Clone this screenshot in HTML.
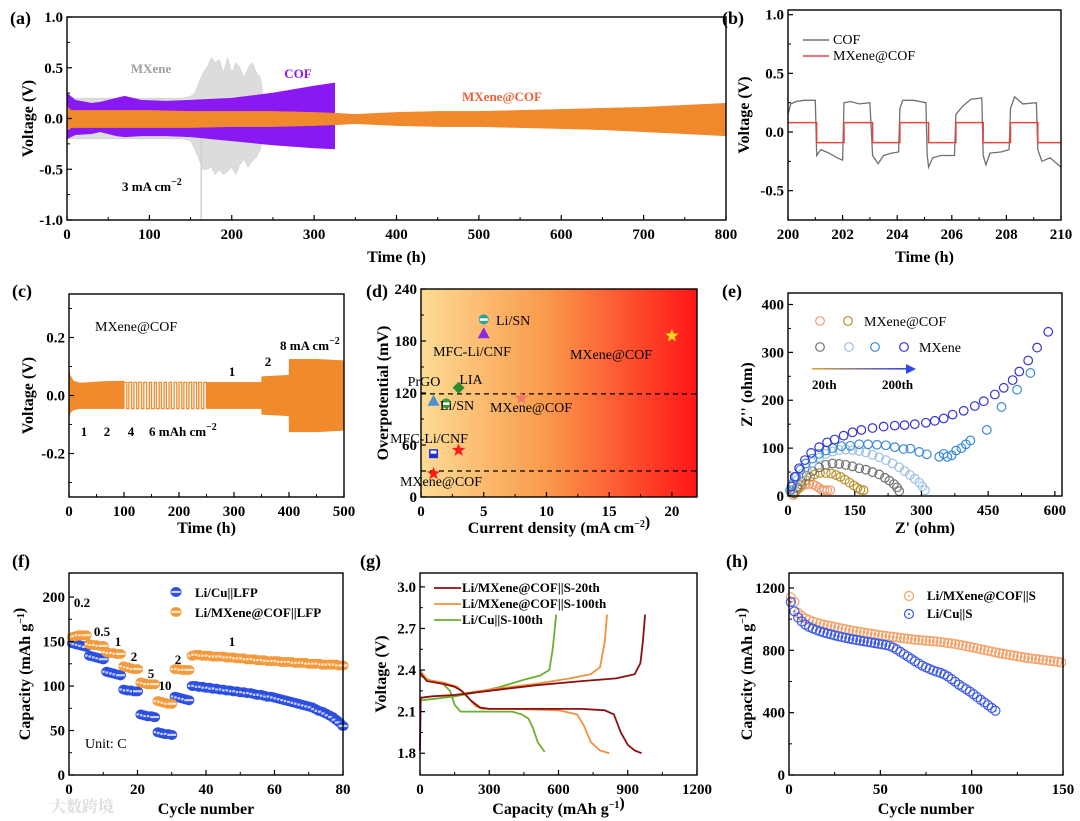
<!DOCTYPE html>
<html><head><meta charset="utf-8"><style>
html,body{margin:0;padding:0;background:#fff}
svg{display:block;font-family:"Liberation Serif","Noto Serif CJK SC",serif}
.tk{font-size:15px;font-weight:bold}
.at{font-size:16px;font-weight:bold}
.pl{font-size:18px;font-weight:bold}
.an{font-size:13px;font-weight:bold}
.dl{font-size:14px}
</style></head><body>
<svg id="fig" width="1080" height="821" viewBox="0 0 1080 821" xmlns="http://www.w3.org/2000/svg">
<defs>
<linearGradient id="dgrad" x1="0" y1="0" x2="1" y2="0">
<stop offset="0" stop-color="#fcdc94"/><stop offset="0.45" stop-color="#fa9a4c"/><stop offset="1" stop-color="#ff1616"/>
</linearGradient>
<linearGradient id="egrad" x1="0" y1="0" x2="1" y2="0">
<stop offset="0" stop-color="#d8a53a"/><stop offset="1" stop-color="#2f48e8"/>
</linearGradient>
</defs>
</svg>
<script>
// ---------- DATA ----------
// (a)
const aOrT=[0,5,20,50,100,150,200,250,300,330,350,400,450,500,550,600,650,700,750,800];
const aOrUp=[0.12,0.08,0.08,0.08,0.08,0.07,0.07,0.07,0.06,0.05,0.04,0.06,0.07,0.07,0.08,0.09,0.1,0.11,0.13,0.15];
const aOrLo=[-0.12,-0.09,-0.09,-0.09,-0.09,-0.09,-0.08,-0.08,-0.07,-0.06,-0.05,-0.07,-0.08,-0.08,-0.09,-0.1,-0.11,-0.13,-0.15,-0.17];
const aCofT=[0,10,30,40,60,70,90,120,150,200,250,300,325];
const aCofUp=[0.25,0.18,0.15,0.16,0.2,0.22,0.18,0.17,0.18,0.2,0.25,0.32,0.35];
const aCofLo=[-0.2,-0.16,-0.15,-0.13,-0.17,-0.18,-0.17,-0.17,-0.18,-0.22,-0.26,-0.29,-0.3];
const aMxT=[0,10,20,40,60,80,100,120,140,150,155,160,165,170,175,180,185,190,195,200,205,210,215,220,225,230,235,240];
const aMxUp=[0.22,0.2,0.2,0.2,0.2,0.2,0.2,0.2,0.2,0.22,0.25,0.35,0.45,0.5,0.6,0.55,0.58,0.45,0.6,0.45,0.55,0.5,0.4,0.5,0.55,0.45,0.4,0.1];
const aMxLo=[-0.2,-0.2,-0.2,-0.2,-0.2,-0.2,-0.2,-0.2,-0.2,-0.22,-0.3,-0.4,-0.5,-0.5,-0.48,-0.55,-0.5,-0.55,-0.52,-0.48,-0.55,-0.45,-0.4,-0.48,-0.42,-0.38,-0.3,-0.1];
const aSpikeT=[163];
const aSpikeV=[-1.0];
// (b)
const bCofT=[200,200.1,200.3,200.6,201.0,201.05,201.2,201.5,201.8,202.0,202.05,202.3,202.6,203.0,203.1,203.3,203.5,203.8,204.05,204.1,204.2,204.6,205.05,205.1,205.15,205.3,205.6,206.1,206.15,206.4,206.7,207.1,207.15,207.25,207.4,207.8,208.1,208.15,208.3,208.6,209.1,209.15,209.3,209.6,210];
const bCofV=[0.15,0.24,0.26,0.27,0.27,-0.2,-0.15,-0.18,-0.22,-0.24,0.25,0.26,0.24,0.25,-0.2,-0.27,-0.2,-0.18,-0.17,0.2,0.27,0.27,0.25,-0.2,-0.3,-0.22,-0.2,-0.2,0.15,0.22,0.28,0.29,-0.2,-0.28,-0.18,-0.17,-0.15,0.2,0.3,0.24,0.25,-0.15,-0.25,-0.22,-0.3];
const bMxT=[200,201.05,202.05,203.1,204.1,205.15,206.15,207.15,208.15,209.15,210];
const bMxV=[0.08,-0.09,0.08,-0.09,0.08,-0.09,0.08,-0.09,0.08,-0.09];
// (c)
const cEnv1T=[0,2,8,20,40,60,100];
const cEnv1Up=[0.095,0.07,0.05,0.043,0.045,0.048,0.05];
const cEnv1Lo=[-0.085,-0.06,-0.05,-0.045,-0.045,-0.045,-0.045];
const cSwitch=[100,105,109,114,118,123,127,132,136,141,146,150,155,159,164,168,173,177,182,186,191,196,200,205,209,214,218,223,227,232,236,241,245,250];
const cSqAmp=0.045;
const cEnv2T=[250,300,350,350.5,400,400.5,450,500];
const cEnv2Up=[0.045,0.045,0.045,0.065,0.07,0.125,0.125,0.12];
const cEnv2Lo=[-0.045,-0.045,-0.045,-0.065,-0.07,-0.125,-0.125,-0.12];
// (d)
const dX=[5,5,20,3,1,2,8,3,1,1];
const dY=[205,189,186,126,111,108,114,54,50,27];
const dShape=['circ','tri','star','diam','tri','circ','star','star','sq','star'];
const dColor=['#2aa59a','#8a2be2','#f5d21e','#2e8b2e','#4a90d0','#38a038','#f07a6a','#ff1a1a','#1a30e0','#ff1a1a'];
const dRef=[119,30];
// (e)
const eOrange=[[12,2],[18,10],[25,16],[32,21],[40,24],[48,25],[56,24],[63,21],[70,17],[76,13],[82,12],[88,12],[95,12]];
const eBrown=[[15,5],[22,15],[30,24],[40,33],[50,40],[60,45],[72,48],[85,48],[97,47],[108,44],[118,40],[128,34],[138,28],[148,22],[156,17],[163,13],[170,12]];
const eGray=[[12,6],[20,18],[30,30],[42,42],[55,52],[70,60],[85,65],[100,68],[115,67],[130,65],[145,62],[160,58],[175,55],[190,50],[205,45],[218,38],[228,32],[238,25],[245,18],[250,10]];
const eLight=[[6,8],[12,20],[20,33],[30,46],[42,58],[55,70],[70,80],[85,88],[100,93],[115,96],[130,97],[145,96],[160,94],[175,91],[190,86],[205,81],[220,75],[235,68],[250,60],[262,52],[274,44],[285,36],[295,28],[302,20],[308,12]];
const eBlue=[[5,12],[10,25],[18,40],[28,55],[40,68],[55,78],[70,88],[85,95],[100,100],[120,104],[140,105],[160,108],[180,108],[200,107],[220,106],[240,102],[260,98],[275,99],[295,92],[312,87],[340,82],[350,88],[358,82],[368,85],[378,95],[390,100],[400,108],[410,116],[447,138],[480,186],[515,222],[545,257]];
const eDark=[[8,20],[15,40],[25,58],[38,75],[52,90],[70,102],[88,112],[105,118],[125,126],[145,133],[165,138],[190,142],[215,145],[240,147],[262,148],[285,150],[310,153],[330,157],[350,162],[370,170],[395,178],[420,188],[440,198],[465,212],[485,226],[505,242],[520,260],[540,283],[560,310],[585,343]];
// (f)
const fCuCap=[148,147,146,145,144,134,133,132,131,130,116,115,114,113,112,96,95,95,94,94,68,67,66,66,65,48,47,46,46,45,88,87,86,85,84,
100,100,99,99,98,98,97,97,96,96,95,95,94,94,93,93,92,92,91,90,90,89,88,88,87,86,85,84,83,82,81,80,79,78,77,76,74,72,71,69,67,65,62,59,55];
const fMxCap=[155,156,157,157,157,147,146,146,145,145,138,137,137,136,136,122,121,120,119,119,104,103,102,102,102,83,82,81,80,80,119,119,118,118,118,
134,135,135,134,134,134,133,133,133,133,132,132,132,131,131,131,130,130,130,129,129,129,128,128,128,128,127,127,127,127,126,126,126,126,125,125,125,125,124,124,124,124,124,123,123];
const fRates=['0.2','0.5','1','2','5','10','2','1'];
// (g)
const gRedDisX=[0,30,100,150,180,220,260,300,500,700,800,840,870,900,930,960];
const gRedDisV=[2.38,2.32,2.30,2.28,2.25,2.18,2.13,2.12,2.12,2.12,2.11,2.08,1.95,1.86,1.82,1.80];
const gRedChX=[0,3,50,150,300,500,700,850,930,955,965,975];
const gRedChV=[1.82,2.2,2.21,2.22,2.25,2.29,2.32,2.34,2.37,2.45,2.6,2.8];
const gOrDisX=[0,30,100,160,200,240,270,400,600,680,710,740,780,820];
const gOrDisV=[2.4,2.33,2.31,2.28,2.22,2.14,2.12,2.12,2.11,2.08,2.0,1.88,1.82,1.80];
const gOrChX=[0,50,150,300,500,650,740,780,800,810];
const gOrChV=[2.2,2.21,2.22,2.26,2.30,2.34,2.37,2.42,2.6,2.8];
const gGrDisX=[0,50,100,130,150,175,250,400,440,470,490,510,540];
const gGrDisV=[2.36,2.32,2.30,2.25,2.15,2.10,2.10,2.10,2.08,2.05,1.98,1.88,1.81];
const gGrChX=[0,50,150,250,350,450,520,560,575,590];
const gGrChV=[2.18,2.19,2.21,2.24,2.28,2.33,2.36,2.4,2.55,2.8];
// (h)
const hMxCap=[1140,1110,1040,1020,1005,995,985,978,970,965,960,955,950,945,940,935,930,926,922,918,914,910,906,902,898,895,892,889,886,883,880,877,874,871,868,866,864,862,860,858,856,853,850,847,844,840,836,832,827,822,817,812,807,802,797,792,787,782,778,774,770,766,762,758,754,750,747,744,741,738,735,732,729,726,722];
const hCuCap=[1110,1050,1010,985,965,950,940,930,922,915,908,902,896,890,885,880,875,870,866,862,858,854,850,846,842,838,834,828,818,805,790,775,760,745,730,715,702,690,680,670,662,655,645,632,615,598,580,565,550,535,518,500,482,465,448,430,412];
const hCycleStep=2;

// ---------- HELPERS ----------
const NS='http://www.w3.org/2000/svg';
const svg=document.getElementById('fig');
function mk(tag,attrs,parent){const e=document.createElementNS(NS,tag);for(const k in attrs)e.setAttribute(k,attrs[k]);(parent||svg).appendChild(e);return e;}
function T(x,y,html,cls,anchor,parent,extra){const e=mk('text',Object.assign({x:x,y:y,class:cls||'tk','text-anchor':anchor||'middle'},extra||{}),parent);e.innerHTML=html;return e;}
const SUP=(s)=>`<tspan dy="-6" font-size="10">${s}</tspan><tspan dy="6"></tspan>`;
const P={
a:{L:67,R:726,T:17,B:220,x0:0,x1:800,y0:-1,y1:1},
b:{L:788,R:1061,T:10,B:220,x0:200,x1:210,y0:-0.75,y1:1.04},
c:{L:69,R:344,T:294,B:497,x0:0,x1:500,y0:-0.35,y1:0.35},
d:{L:421,R:697,T:289,B:497,x0:0,x1:22,y0:0,y1:240},
e:{L:788,R:1062,T:293,B:496,x0:0,x1:616,y0:0,y1:424},
f:{L:69,R:343,T:573,B:775,x0:0,x1:80,y0:0,y1:227},
g:{L:420,R:697,T:573,B:775,x0:0,x1:1200,y0:1.643,y1:3.1},
h:{L:789,R:1063,T:573,B:775,x0:0,x1:150,y0:0,y1:1296}};
const X=(p,v)=>p.L+(v-p.x0)/(p.x1-p.x0)*(p.R-p.L);
const Y=(p,v)=>p.B-(v-p.y0)/(p.y1-p.y0)*(p.B-p.T);
function frame(p,g){const r=mk('rect',{x:p.L,y:p.T,width:p.R-p.L,height:p.B-p.T,fill:'none',stroke:'#000','stroke-width':1.4},g);

}
function axes(p,g,xt,xl,xm,yt,yl,ym){
 const ag=mk('g',{},g);
 
 
 xt.forEach((v,i)=>{const x=X(p,v);mk('line',{x1:x,x2:x,y1:p.B,y2:p.B-5,stroke:'#000','stroke-width':1.2},ag);
  const t=T(x,p.B+19,xl[i],'tk','middle',ag);
  
  });
 xm.forEach(v=>{const x=X(p,v);mk('line',{x1:x,x2:x,y1:p.B,y2:p.B-3,stroke:'#000','stroke-width':1},ag);});
 yt.forEach((v,i)=>{const y=Y(p,v);mk('line',{x1:p.L,x2:p.L+5,y1:y,y2:y,stroke:'#000','stroke-width':1.2},ag);
  const t=T(p.L-4,y+5,yl[i],'tk','end',ag);
  
  });
 ym.forEach(v=>{const y=Y(p,v);mk('line',{x1:p.L,x2:p.L+3,y1:y,y2:y,stroke:'#000','stroke-width':1},ag);});
}
function titles(p,g,xt,xy,yt,yx,letter,lx,ly){
 const a=T((p.L+p.R)/2,xy,xt,'at','middle',g);
 
 
 const cy=(p.T+p.B)/2;
 const b=T(yx,cy,yt,'at','middle',g,{transform:`rotate(-90 ${yx} ${cy})`});
 
 
 const c=T(lx,ly,letter,'pl','start',g);
 
 
}
function env(p,t,up,lo){let d='';t.forEach((v,i)=>{d+=(i?'L':'M')+X(p,v).toFixed(1)+' '+Y(p,up[i]).toFixed(1);});
 for(let i=t.length-1;i>=0;i--)d+='L'+X(p,t[i]).toFixed(1)+' '+Y(p,lo[i]).toFixed(1);return d+'Z';}
function poly(p,xs,vs){return xs.map((v,i)=>(i?'L':'M')+X(p,v).toFixed(1)+' '+Y(p,vs[i]).toFixed(1)).join('');}
function range(a,b,s){const r=[];for(let v=a;v<=b+1e-9;v+=s)r.push(+v.toFixed(4));return r;}
function star(cx,cy,r){let pts=[];for(let i=0;i<10;i++){const rr=i%2?r*0.42:r;const an=-Math.PI/2+i*Math.PI/5;pts.push((cx+rr*Math.cos(an)).toFixed(1)+','+(cy+rr*Math.sin(an)).toFixed(1));}return pts.join(' ');}

// ---------- PANEL A ----------
{const p=P.a;const g=mk('g',{});


const m=mk('path',{d:env(p,aMxT,aMxUp,aMxLo),fill:'#dcdcdc',stroke:'#d0d0d0','stroke-width':0.6},g);


aSpikeT.forEach((t,i)=>{const s=mk('line',{x1:X(p,t),x2:X(p,t),y1:Y(p,-0.1),y2:Y(p,aSpikeV[i]),stroke:'#d0d0d0','stroke-width':1.5},g);
 
 });
const c=mk('path',{d:env(p,aCofT,aCofUp,aCofLo),fill:'#8a18f2',stroke:'#8a18f2','stroke-width':0.6},g);


const o=mk('path',{d:env(p,aOrT,aOrUp,aOrLo),fill:'#f0892c',stroke:'#f0892c','stroke-width':0.6},g);


frame(p,g);
axes(p,g,range(0,800,100),range(0,800,100).map(String),range(50,750,100),[-1,-0.5,0,0.5,1],['-1.0','-0.5','0.0','0.5','1.0'],[-0.75,-0.25,0.25,0.75]);
titles(p,g,'Time (h)',262,'Voltage (V)',33,'(a)',10,24);
let t=T(151,73,'MXene','an','middle',g,{fill:'#a0a0a0'});


t=T(298,78,'COF','an','middle',g,{fill:'#8a18f2'});


t=T(502,101,'MXene@COF','an','middle',g,{fill:'#f0603a'});


t=T(122,191,'3 mA cm'+SUP('−2'),'an','start',g);

}

// ---------- PANEL B ----------
{const p=P.b;const g=mk('g',{});


const c=mk('path',{d:poly(p,bCofT,bCofV),fill:'none',stroke:'#707070','stroke-width':1.3},g);


let d='';bMxV.forEach((v,i)=>{d+=(i?'L':'M')+X(p,bMxT[i]).toFixed(1)+' '+Y(p,v).toFixed(1)+'L'+X(p,bMxT[i+1]).toFixed(1)+' '+Y(p,v).toFixed(1);});
const r=mk('path',{d:d,fill:'none',stroke:'#e8453c','stroke-width':1.5},g);


frame(p,g);
axes(p,g,range(200,210,2),['200','202','204','206','208','210'],range(201,209,2),[-0.5,0,0.5,1],['-0.5','0.0','0.5','1.0'],[-0.25,0.25,0.75]);
titles(p,g,'Time (h)',262,'Voltage (V)',749,'(b)',722,24);
const lg=mk('g',{},g);


mk('line',{x1:803,x2:829,y1:40,y2:40,stroke:'#707070','stroke-width':1.5},lg);
let t=T(833,44,'COF','dl','start',lg);


mk('line',{x1:803,x2:829,y1:56,y2:56,stroke:'#e8453c','stroke-width':1.5},lg);
t=T(833,60,'MXene@COF','dl','start',lg);

}

// ---------- PANEL C ----------
{const p=P.c;const g=mk('g',{});


let e=mk('path',{d:env(p,cEnv1T,cEnv1Up,cEnv1Lo),fill:'#f08a2a',stroke:'#f08a2a','stroke-width':0.6},g);


let d='';cSwitch.forEach((t,i)=>{const v=(i%2?-1:1)*cSqAmp;const x=X(p,t);d+=(i?'L':'M')+x.toFixed(1)+' '+Y(p,-v).toFixed(1)+'L'+x.toFixed(1)+' '+Y(p,v).toFixed(1);if(i<cSwitch.length-1)d+='L'+X(p,cSwitch[i+1]).toFixed(1)+' '+Y(p,v).toFixed(1);});
e=mk('path',{d:d,fill:'none',stroke:'#f08a2a','stroke-width':1.3},g);


e=mk('path',{d:env(p,cEnv2T,cEnv2Up,cEnv2Lo),fill:'#f08a2a',stroke:'#f08a2a','stroke-width':0.6},g);


frame(p,g);
axes(p,g,range(0,500,100),range(0,500,100).map(String),range(50,450,100),[-0.2,0,0.2],['-0.2','0.0','0.2'],[-0.3,-0.1,0.1,0.3]);
titles(p,g,'Time (h)',533,'Voltage (V)',33,'(c)',12,297);
const L=[[95,331,'MXene@COF','start','dl'],[280,350,'8 mA cm'+SUP('−2'),'start','an'],[232,376,'1','middle','an'],[268,366,'2','middle','an'],[84,436,'1','middle','an'],[107,436,'2','middle','an'],[131,436,'4','middle','an'],[149,436,'6 mAh cm'+SUP('−2'),'start','an']];
L.forEach(l=>{const t=T(l[0],l[1],l[2],l[4],l[3],g);
 
 });}

// ---------- PANEL D ----------
{const p=P.d;const g=mk('g',{});


const bg=mk('rect',{x:p.L,y:p.T,width:p.R-p.L,height:p.B-p.T,fill:'url(#dgrad)'},g);


dRef.forEach(v=>{const l=mk('line',{x1:p.L,x2:p.R,y1:Y(p,v),y2:Y(p,v),stroke:'#000','stroke-width':1.3,'stroke-dasharray':'5,4'},g);
 
 });
dX.forEach((v,i)=>{const cx=X(p,v),cy=Y(p,dY[i]),col=dColor[i],s=dShape[i];let el;
 if(s==='circ'){el=mk('g',{},g);mk('circle',{cx:cx,cy:cy,r:5,fill:col},el);mk('rect',{x:cx-4,y:cy-1,width:8,height:2.5,fill:'#fff'},el);}
 else if(s==='tri')el=mk('polygon',{points:`${cx},${cy-6} ${cx-6},${cy+5} ${cx+6},${cy+5}`,fill:col},g);
 else if(s==='diam')el=mk('polygon',{points:`${cx},${cy-6} ${cx+6},${cy} ${cx},${cy+6} ${cx-6},${cy}`,fill:col},g);
 else if(s==='sq'){el=mk('g',{},g);mk('rect',{x:cx-4.5,y:cy-4.5,width:9,height:9,fill:col},el);mk('rect',{x:cx-3,y:cy-3,width:6,height:3,fill:'#fff'},el);}
 else el=mk('polygon',{points:star(cx,cy,7),fill:col},g);
 
 });
frame(p,g);
axes(p,g,[0,5,10,15,20],['0','5','10','15','20'],[2.5,7.5,12.5,17.5],[0,60,120,180,240],['0','60','120','180','240'],[30,90,150,210]);
titles(p,g,'Current density (mA cm'+SUP('−2')+')',533,'Overpotential (mV)',388,'(d)',366,297);
const L=[[496,325,'Li/SN','start'],[472,356,'MFC-Li/CNF','middle'],[611,359,'MXene@COF','middle'],[424,386,'PrGO','middle'],[471,384,'LIA','middle'],[457,410,'Li/SN','middle'],[531,412,'MXene@COF','middle'],[429,443,'MFC-Li/CNF','middle'],[441,486,'MXene@COF','middle']];
L.forEach(l=>{const t=T(l[0],l[1],l[2],'dl',l[3],g);
 
 });}

// ---------- PANEL E ----------
{const p=P.e;const g=mk('g',{});


const series=[[eOrange,'#f09a6a','mxene-cof-20th'],[eBrown,'#b8902a','mxene-cof-200th'],[eGray,'#707070','mxene-20th'],[eLight,'#9cc0e6','mxene-mid-a'],[eBlue,'#3a8ad8','mxene-mid-b'],[eDark,'#3434d2','mxene-200th']];
series.forEach(s=>{const sg=mk('g',{},g);
 
 
 s[0].forEach(pt=>{const c=mk('circle',{cx:X(p,pt[0]),cy:Y(p,pt[1]),r:4.3,fill:'none',stroke:s[1],'stroke-width':1.2},sg);
  
  });});
frame(p,g);
axes(p,g,[0,150,300,450,600],['0','150','300','450','600'],[75,225,375,525],[0,100,200,300,400],['0','100','200','300','400'],[50,150,250,350]);
titles(p,g,"Z' (ohm)",533,"Z'' (ohm)",752,'(e)',722,297);
const lg=mk('g',{},g);


[[820,321,'#f09a6a'],[848,321,'#b8902a'],[820,347,'#707070'],[849,347,'#9cc0e6'],[875,347,'#3a8ad8'],[904,347,'#3434d2']].forEach(m=>{mk('circle',{cx:m[0],cy:m[1],r:4.3,fill:'none',stroke:m[2],'stroke-width':1.2},lg);});
let t=T(864,326,'MXene@COF','dl','start',lg);


t=T(919,352,'MXene','dl','start',lg);


const ar=mk('g',{},lg);


mk('rect',{x:812,y:368,width:96,height:1.6,fill:'url(#egrad)'},ar);
mk('polygon',{points:'906,364 916,369 906,374',fill:'#2f48e8'},ar);
t=T(812,389,'20th','an','start',lg);


t=T(882,389,'200th','an','start',lg);

}

// ---------- PANEL F ----------
{const p=P.f;const g=mk('g',{});


function dot(cx,cy,col,parent){const e=mk('g',{},parent);mk('ellipse',{cx:cx,cy:cy,rx:5.5,ry:5,fill:col},e);mk('rect',{x:cx-4.5,y:cy-1.2,width:9,height:2.2,fill:'#fff',opacity:0.75},e);return e;}
[[fCuCap,'#2c4fe0','li-cu-lfp'],[fMxCap,'#f29a3c','li-mxene-cof-lfp']].forEach(s=>{const sg=mk('g',{},g);
 
 
 s[0].forEach((v,i)=>{const e=dot(X(p,i+1),Y(p,v),s[1],sg);
  
  });});
frame(p,g);
axes(p,g,[0,20,40,60,80],['0','20','40','60','80'],[10,30,50,70],[0,50,100,150,200],['0','50','100','150','200'],[25,75,125,175]);
titles(p,g,'Cycle number',814,'Capacity (mAh g'+SUP('−1')+')',30,'(f)',12,567);
const lg=mk('g',{},g);


dot(176,592,'#2c4fe0',lg);dot(176,612,'#f29a3c',lg);
let t=T(195,597,'Li/Cu||LFP','an','start',lg);


t=T(195,617,'Li/MXene@COF||LFP','an','start',lg);


const rp=[[82,607],[102,636],[118,646],[134,661],[151,678],[165,690],[178,664],[232,646]];
fRates.forEach((r,i)=>{const t=T(rp[i][0],rp[i][1],r,'an','middle',g);
 
 });
t=T(85,748,'Unit: C','dl','start',g);


t=T(50,812,'大数跨境','at','start',g,{fill:'#dcdcdc','font-size':'22'});

}

// ---------- PANEL G ----------
{const p=P.g;const g=mk('g',{});


[[gGrDisX,gGrDisV,'#6ab030','li-cu-s-100th-discharge'],[gGrChX,gGrChV,'#6ab030','li-cu-s-100th-charge'],[gOrDisX,gOrDisV,'#f2903c','mxene-cof-100th-discharge'],[gOrChX,gOrChV,'#f2903c','mxene-cof-100th-charge'],[gRedDisX,gRedDisV,'#8b1010','mxene-cof-20th-discharge'],[gRedChX,gRedChV,'#8b1010','mxene-cof-20th-charge']].forEach(s=>{
 const l=mk('path',{d:poly(p,s[0],s[1]),fill:'none',stroke:s[2],'stroke-width':1.8},g);
 
 });
frame(p,g);
axes(p,g,[0,300,600,900,1200],['0','300','600','900','1200'],[150,450,750,1050],[1.8,2.1,2.4,2.7,3.0],['1.8','2.1','2.4','2.7','3.0'],[1.95,2.25,2.55,2.85]);
titles(p,g,'Capacity (mAh g'+SUP('−1')+')',814,'Voltage (V)',386,'(g)',360,567);
const lg=mk('g',{},g);


[['#8b1010','Li/MXene@COF||S-20th',588],['#f2903c','Li/MXene@COF||S-100th',604],['#6ab030','Li/Cu||S-100th',620]].forEach(e=>{
 mk('line',{x1:434,x2:461,y1:e[2],y2:e[2],stroke:e[0],'stroke-width':1.8},lg);
 const t=T(462,e[2]+4,e[1],'an','start',lg,{'font-size':'12'});
 
 });}

// ---------- PANEL H ----------
{const p=P.h;const g=mk('g',{});


function oc(cx,cy,col,parent){const e=mk('g',{},parent);mk('circle',{cx:cx,cy:cy,r:4.5,fill:'none',stroke:col,'stroke-width':1.2},e);mk('circle',{cx:cx,cy:cy,r:1,fill:col},e);return e;}
[[hMxCap,'#f3a36a','li-mxene-cof-s'],[hCuCap,'#3d5ae6','li-cu-s']].forEach(s=>{const sg=mk('g',{},g);
 
 
 s[0].forEach((v,i)=>{const e=oc(X(p,1+i*hCycleStep),Y(p,v),s[1],sg);
  
  });});
frame(p,g);
axes(p,g,[0,50,100,150],['0','50','100','150'],[25,75,125],[0,400,800,1200],['0','400','800','1200'],[200,600,1000]);
titles(p,g,'Cycle number',814,'Capacity (mAh g'+SUP('−1')+')',752,'(h)',726,567);
const lg=mk('g',{},g);


oc(909,596,'#f3a36a',lg);oc(909,614,'#3d5ae6',lg);
let t=T(927,600,'Li/MXene@COF||S','an','start',lg);


t=T(927,618,'Li/Cu||S','an','start',lg);

}
</script>
</body></html>
